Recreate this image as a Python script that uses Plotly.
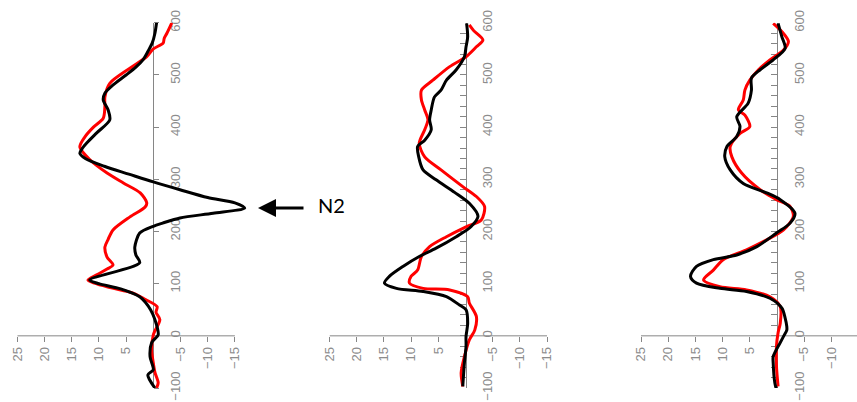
import plotly.graph_objects as go

# ---------------- data (position p, value v) ----------------
p1_black = [-100, -75, -65, -40, -13, 2, 31, 50, 65, 75, 90, 100, 107, 140, 155, 170, 197, 210, 216, 226, 235, 245, 255, 265, 280, 295, 310, 325, 340, 350, 360, 370, 389, 414, 433, 452, 465, 480, 500, 515, 529, 545, 561, 580, 600]
v1_black = [-0.3, 1.0, 0.0, 0.6, 0.3, -0.9, -0.3, 0.5, 1.5, 2.5, 6.0, 10.0, 11.7, 2.5, 3.2, 3.4, 2.5, 0.0, -1.7, -4.9, -11.0, -16.8, -15.0, -10.0, -4.9, 0.0, 4.5, 9.0, 12.5, 13.5, 13.0, 12.2, 10.4, 8.0, 8.3, 9.2, 8.9, 7.5, 5.0, 3.2, 1.9, 1.0, 0.2, -0.3, -0.6]

p1_red = [-100, -90, -70, -52, -27, 2, 31, 45, 56, 70, 82, 94, 107, 117, 128, 136, 151, 170, 185, 203, 228, 247, 255, 274, 293, 312, 337, 362, 381, 400, 417, 439, 458, 484, 513, 535, 550, 561, 570, 580, 600]
v1_red = [-0.6, -0.9, -0.3, 0.0, 0.3, 0.0, -1.2, -0.5, -0.7, 1.5, 3.7, 8.5, 12.0, 10.4, 8.5, 7.4, 8.5, 8.9, 8.3, 7.4, 4.3, 1.5, 1.2, 2.4, 5.5, 8.5, 11.6, 13.5, 12.6, 11.0, 9.2, 8.9, 8.9, 8.0, 4.3, 1.2, 0.0, -1.8, -2.0, -2.5, -3.4]

p2_black = [-97, -52, -20, -1, 24, 50, 59, 75, 85, 91, 101, 114, 133, 152, 168, 190, 209, 229, 254, 275, 299, 318, 343, 363, 375, 395, 414, 433, 458, 471, 490, 510, 535, 554, 573, 599]
v2_black = [0.5, 0.2, -0.1, -0.1, -0.4, -0.1, 1.1, 3.5, 7.8, 12.7, 14.9, 14.0, 11.5, 8.5, 5.4, 1.7, -1.0, -2.3, -0.7, 2.0, 5.4, 7.8, 8.6, 8.8, 7.5, 6.3, 6.6, 6.3, 5.7, 4.5, 3.5, 1.7, 0.2, -0.1, -0.4, -0.2]

p2_red = [-97, -71, -40, -8, 11, 37, 63, 75, 88, 91, 101, 114, 126, 152, 171, 190, 209, 222, 248, 267, 286, 318, 343, 369, 395, 414, 433, 452, 471, 490, 516, 535, 554, 567, 585, 596]
v2_red = [0.5, 0.8, 0.2, -0.7, -1.7, -2.0, -0.7, -0.4, 2.9, 7.8, 10.3, 10.0, 8.8, 8.1, 6.6, 3.5, -0.1, -2.9, -3.5, -2.0, 0.5, 4.5, 7.5, 8.5, 7.5, 6.9, 7.5, 8.1, 8.1, 6.0, 2.9, -0.1, -2.0, -3.2, -1.5, -0.7]

p3_black = [-103, -90, -52, -40, -13, -1, 11, 18, 34, 53, 72, 85, 91, 101, 114, 133, 146, 155, 171, 197, 216, 235, 261, 274, 292, 318, 343, 363, 382, 401, 420, 446, 471, 494, 510, 529, 551, 573, 599]
v3_black = [0.1, 0.4, 0.7, 0.7, -0.6, -1.2, -1.8, -1.8, -1.5, -0.9, 1.3, 5.6, 10.5, 14.8, 15.9, 14.8, 11.7, 7.4, 3.7, 0.1, -2.4, -3.3, -0.6, 1.9, 6.2, 8.6, 9.6, 9.2, 7.4, 6.8, 7.4, 5.3, 4.7, 4.7, 3.1, 0.7, -1.5, -0.9, -0.2]

p3_red = [-97, -58, -20, 6, 24, 56, 75, 88, 94, 107, 126, 146, 165, 184, 203, 229, 248, 261, 280, 312, 343, 363, 388, 401, 423, 433, 452, 471, 490, 510, 529, 548, 564, 583, 599]
v3_red = [-0.2, 0.1, 0.1, -0.2, -0.6, -0.6, 1.3, 5.6, 10.5, 13.5, 11.7, 9.9, 5.6, 1.9, -1.2, -3.0, -2.4, 0.1, 3.1, 6.5, 8.3, 8.6, 6.8, 5.0, 5.9, 7.1, 6.2, 5.9, 5.0, 3.4, 1.3, -1.2, -2.1, -0.9, 0.7]

x_ticks = [25, 20, 15, 10, 5, -5, -10, -15]
x_axis_ends = [25, -15]
y_range = [-100, 600]
annotation_text = "N2"

panels = [
    (p1_red, v1_red, p1_black, v1_black),
    (p2_red, v2_red, p2_black, v2_black),
    (p3_red, v3_red, p3_black, v3_black),
]

# ---------------- layout geometry ----------------
W, H = 857, 402
PX_PER_UNIT = 5.44
x_zero_px = [153.3, 465.5, 777.0]       # pixel column of value 0 in each panel
x_extra = [3.5, 0.0, 0.0]               # extra room past -15 (panel 1 peak overshoots)
y_dom = [(H - 388.0) / H, (H - 22.8) / H]
y_zero_frac = y_dom[0] + (0 - y_range[0]) / (y_range[1] - y_range[0]) * (y_dom[1] - y_dom[0])

AXC = "#868686"
TXC = "#8c8c8c"
FONT = "Liberation Sans"
FSIZE = 13

fig = go.Figure()
layout = dict(
    width=W, height=H,
    margin=dict(l=0, r=0, t=0, b=0, autoexpand=False),
    paper_bgcolor="white", plot_bgcolor="rgba(0,0,0,0)",
    showlegend=False,
)

shapes = []
for i, (pr, vr, pb, vb) in enumerate(panels):
    n = "" if i == 0 else str(i + 1)
    xa, ya = "x" + n, "y" + n
    fig.add_trace(go.Scatter(x=vr, y=pr, mode="lines", xaxis=xa, yaxis=ya,
                             line=dict(color="#ff0000", width=3, shape="spline", smoothing=0.8)))
    fig.add_trace(go.Scatter(x=vb, y=pb, mode="lines", xaxis=xa, yaxis=ya,
                             line=dict(color="#000000", width=3, shape="spline", smoothing=0.8)))
    lo = x_axis_ends[0]
    hi = x_axis_ends[1] - x_extra[i]
    left_px = x_zero_px[i] - lo * PX_PER_UNIT
    right_px = min(W, x_zero_px[i] - hi * PX_PER_UNIT)
    hi = (x_zero_px[i] - right_px) / PX_PER_UNIT
    d0, d1 = left_px / W, right_px / W
    x_zero_frac = x_zero_px[i] / W
    layout["xaxis" + n] = dict(
        domain=[d0, d1], range=[lo, hi], anchor="free", position=y_zero_frac,
        showline=False, automargin=False,
        ticks="outside", ticklen=5, tickcolor=AXC,
        tickvals=x_ticks, tickangle=-90,
        tickfont=dict(size=FSIZE, color=TXC, family=FONT),
        showgrid=False, zeroline=False, fixedrange=True,
    )
    shapes.append(dict(type="line", xref=xa, yref=ya, x0=x_axis_ends[0], x1=x_axis_ends[1],
                       y0=0, y1=0, line=dict(color=AXC, width=1), layer="below"))
    ydict = dict(
        domain=list(y_dom), range=y_range, anchor="free", position=x_zero_frac,
        side="right", showline=True, linecolor=AXC, linewidth=1, automargin=False,
        tick0=0, dtick=100, tickangle=-90, tickcolor=AXC,
        tickfont=dict(size=FSIZE, color=TXC, family=FONT),
        showgrid=False, zeroline=False, fixedrange=True, layer="below traces",
    )
    if i == 0:
        ydict.update(ticks="outside", ticklen=5, ticklabelstandoff=5)
    else:
        ydict.update(ticks="inside", ticklen=6, ticklabelstandoff=10,
                     minor=dict(dtick=20, tick0=0, ticks="inside", ticklen=6, tickcolor=AXC))
    layout["yaxis" + n] = ydict

layout["shapes"] = shapes
fig.update_layout(**layout)

fig.add_annotation(xref="paper", yref="paper", x=258 / W, y=(H - 208) / H,
                   ax=47, ay=0, showarrow=True, arrowhead=2, arrowsize=1.2,
                   arrowwidth=3, arrowcolor="black", text="")
fig.add_annotation(xref="paper", yref="paper", x=316 / W, y=(H - 205) / H,
                   xanchor="left", yanchor="middle", showarrow=False,
                   text=annotation_text, font=dict(size=20, color="black", family="Lato"))

fig.write_html("out.html",
               config={"displayModeBar": False, "staticPlot": True},
               post_script="document.body.style.margin='0';document.body.style.overflow='hidden';")
